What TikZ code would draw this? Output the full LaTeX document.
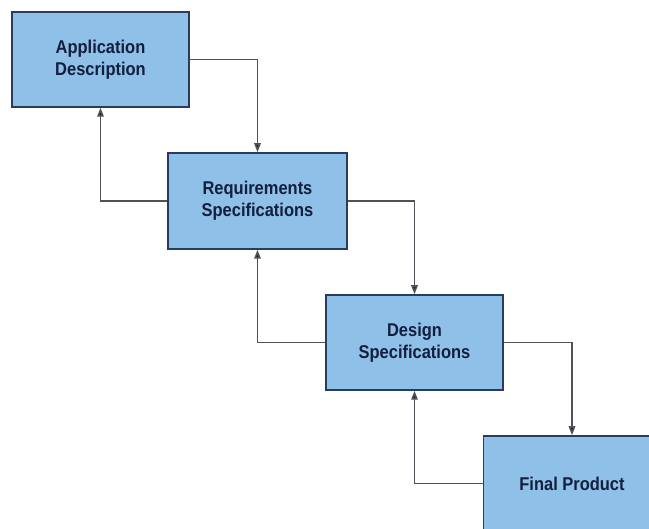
\documentclass[tikz,border=0pt]{standalone}
\usepackage{fontspec}
\setmainfont{Liberation Sans}[FakeStretch=0.89]
\usetikzlibrary{arrows.meta}
\definecolor{boxfill}{RGB}{142,192,232}
\definecolor{boxedge}{RGB}{40,60,95}
\definecolor{labeltext}{RGB}{20,30,62}
\definecolor{wire}{RGB}{80,82,90}
\begin{document}
\begin{tikzpicture}[x=1pt,y=-1pt,
  stage/.style={draw=boxedge, line width=1.5pt, fill=boxfill,
    minimum width=177pt, minimum height=95pt, inner sep=0pt,
    align=center, text=labeltext,
    font=\fontsize{18.5}{22}\selectfont\bfseries},
  flow/.style={draw=wire, line width=1.6pt,
    -{Triangle[length=9pt,width=6.5pt,fill=black!90]}}]
  \useasboundingbox (0,0) rectangle (649,529);
  \fill[white] (0,0) rectangle (649,529);
  \clip (0,0) rectangle (649,529);

  \node[stage] (app) at (100.5,59.5) {Application\\Description};
  \node[stage, minimum width=179pt, minimum height=96pt] (req) at (257.5,201) {Requirements\\Specifications};
  \node[stage] (des) at (414.5,342.5) {Design\\Specifications};
  \node[stage] (fin) at (572,483.5) {Final Product};

  % forward steps
  \draw[flow] (app.east) -| (req.north);
  \draw[flow] (req.east) -| (des.north);
  \draw[flow] (des.east) -| (fin.north);

  % feedback paths
  \draw[flow] (req.west) -| (app.south);
  \draw[flow] (des.west) -| (req.south);
  \draw[flow] (fin.west) -| (des.south);
\end{tikzpicture}
\end{document}
